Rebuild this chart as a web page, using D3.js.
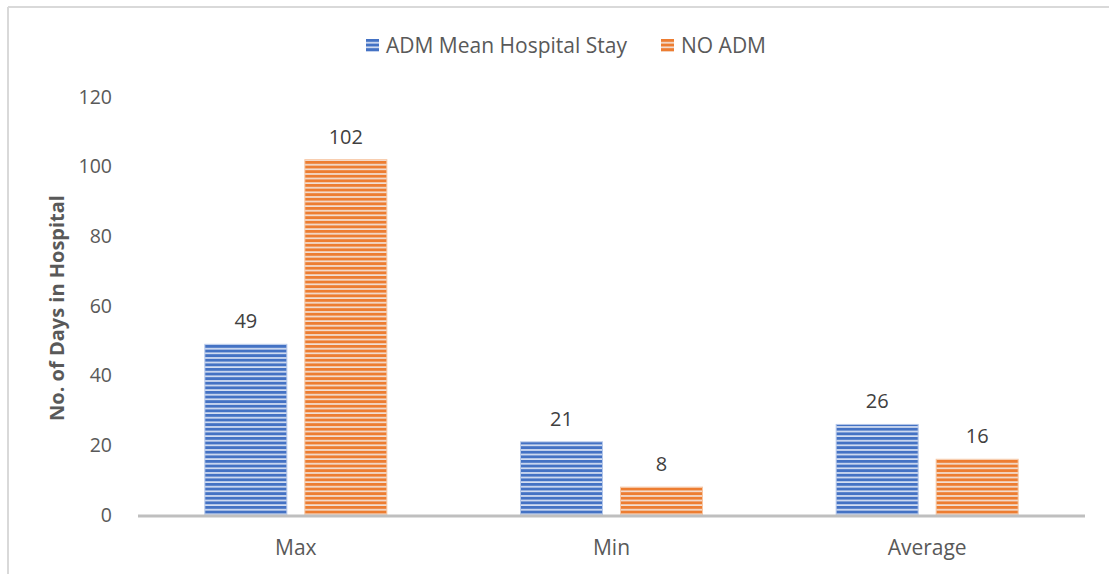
<!DOCTYPE html>
<html>
<head>
<meta charset="utf-8">
<script src="https://cdn.jsdelivr.net/npm/d3@7"></script>
<style>
  html, body { margin: 0; padding: 0; background: #fff; }
  svg { display: block; font-family: "Open Sans", Lato, "Liberation Sans", sans-serif; }
</style>
</head>
<body>
<svg id="chart" width="1109" height="574"></svg>
<script>
// Hospital stay statistics (days)
const categories = ["Max", "Min", "Average"];
const seriesNames = ["ADM Mean Hospital Stay", "NO ADM"];
const admValues = [49, 21, 26];
const noAdmValues = [102, 8, 16];
const yTicks = [0, 20, 40, 60, 80, 100, 120];

const colors = ["#4472C4", "#ED7D31"];
const lightColors = ["#b4c7e9", "#f7c6a3"];

const svg = d3.select("#chart");
const W = 1109, H = 574;

// chart frame (left and top edges visible)
svg.append("line").attr("x1", 8).attr("x2", 8).attr("y1", 7).attr("y2", H)
  .attr("stroke", "#d9d9d9").attr("stroke-width", 2);
svg.append("line").attr("x1", 8).attr("x2", W).attr("y1", 7).attr("y2", 7)
  .attr("stroke", "#d9d9d9").attr("stroke-width", 2);

// striped fills
const defs = svg.append("defs");
colors.forEach((c, i) => {
  const p = defs.append("pattern").attr("id", "stripe" + i)
    .attr("patternUnits", "userSpaceOnUse").attr("width", 8).attr("height", 4.6);
  p.append("rect").attr("width", 8).attr("height", 4.6).attr("fill", lightColors[i]);
  p.append("rect").attr("y", 0).attr("width", 8).attr("height", 2.8).attr("fill", c);
  p.append("rect").attr("y", 3.4).attr("width", 8).attr("height", 0.8).attr("fill", "#eef2fa");
});

const margin = { left: 138, right: 1085, top: 97, bottom: 515 };
const x0 = d3.scaleBand().domain(categories).range([margin.left, margin.right]).padding(0);
const y = d3.scaleLinear().domain([0, 120]).range([margin.bottom, margin.top]);

const barW = 82, gap = 18;
const x1 = d3.scaleOrdinal().domain([0, 1]).range([-(gap / 2) - barW, gap / 2]);

const data = categories.map((cat, i) => ({
  cat, vals: [admValues[i], noAdmValues[i]]
}));

const textColor = "#595959";

// y tick labels
svg.append("g").selectAll("text").data(yTicks).join("text")
  .attr("x", 112).attr("y", d => y(d)).attr("dy", "0.35em")
  .attr("text-anchor", "end").attr("font-size", 19.5).attr("fill", textColor)
  .text(d => d);

// y axis title
svg.append("text")
  .attr("transform", `translate(64,${(margin.top + margin.bottom) / 2 + 2}) rotate(-90)`)
  .attr("text-anchor", "middle").attr("font-size", 20).attr("font-weight", "bold")
  .attr("fill", textColor).text("No. of Days in Hospital");

// bars
const groups = svg.append("g").selectAll("g").data(data).join("g")
  .attr("transform", d => `translate(${x0(d.cat) + x0.bandwidth() / 2},0)`);

groups.selectAll("rect").data(d => d.vals.map((v, s) => ({ v, s }))).join("rect")
  .attr("x", d => x1(d.s)).attr("width", barW)
  .attr("y", d => y(d.v)).attr("height", d => y(0) - y(d.v))
  .attr("fill", d => `url(#stripe${d.s})`)
  .attr("stroke", d => lightColors[d.s]).attr("stroke-width", 1);

groups.selectAll("text.val").data(d => d.vals.map((v, s) => ({ v, s }))).join("text")
  .attr("class", "val")
  .attr("x", d => x1(d.s) + barW / 2).attr("y", d => y(d.v) - 16)
  .attr("text-anchor", "middle").attr("font-size", 20).attr("fill", "#404040")
  .text(d => d.v);

// x axis line
svg.append("line").attr("x1", margin.left).attr("x2", margin.right)
  .attr("y1", y(0) + 1).attr("y2", y(0) + 1)
  .attr("stroke", "#bfbfbf").attr("stroke-width", 3);

// category labels
svg.append("g").selectAll("text").data(categories).join("text")
  .attr("x", d => x0(d) + x0.bandwidth() / 2).attr("y", 555)
  .attr("text-anchor", "middle").attr("font-size", 21).attr("fill", textColor)
  .text(d => d);

// legend
const legendX = [366, 661];
const legend = svg.append("g").selectAll("g").data(seriesNames).join("g")
  .attr("transform", (d, i) => `translate(${legendX[i]},39)`);
legend.append("rect").attr("width", 13).attr("height", 13)
  .attr("fill", (d, i) => `url(#stripe${i})`);
legend.append("text").attr("x", 20).attr("y", 6.5).attr("dy", "0.35em")
  .attr("font-size", 21).attr("fill", textColor).text(d => d);
</script>
</body>
</html>
